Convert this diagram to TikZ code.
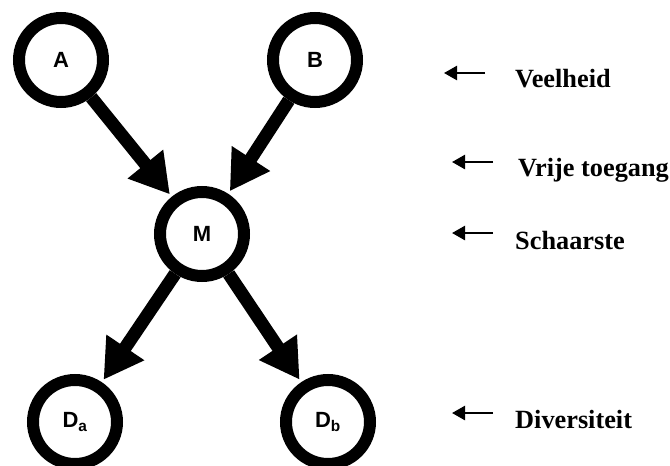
\documentclass[tikz,border=0pt]{standalone}
\usepackage{fontspec}
\setmainfont{Liberation Serif}
\newfontfamily\nodefont{Liberation Sans}
\usetikzlibrary{arrows.meta}
\tikzset{
  ring/.style={circle,draw=black,line width=12pt,minimum size=84pt,inner sep=0pt,fill=white,font=\nodefont\bfseries\fontsize{22}{22}\selectfont},
  bigarrow/.style={line width=13pt,-{Triangle[length=39pt,width=43pt]},shorten >=3pt},
  smallarrow/.style={line width=2.5pt,-{Triangle[length=13pt,width=14pt]}},
  lbl/.style={anchor=base west,inner sep=0pt,font=\bfseries\fontsize{26.3}{26.3}\selectfont}}
\begin{document}
\begin{tikzpicture}[x=1pt,y=-1pt]
\useasboundingbox (0,0) rectangle (670,466);
\node[ring] (A) at (61,60) {A};
\node[ring] (B) at (315,60) {B};
\node[ring] (M) at (202,234) {M};
\node[ring] (Da) at (75,422) {D\textsubscript{a}};
\node[ring] (Db) at (328,422) {D\textsubscript{b}};
\draw[bigarrow] (A) -- (M);
\draw[bigarrow] (B) -- (M);
\draw[bigarrow] (M) -- (Da);
\draw[bigarrow] (M) -- (Db);
\coordinate (s1) at (485,73); \coordinate (e1) at (444,73);
\coordinate (s2) at (493,162); \coordinate (e2) at (452,162);
\coordinate (s3) at (493,233); \coordinate (e3) at (452,233);
\coordinate (s4) at (493,413); \coordinate (e4) at (452,413);
\draw[smallarrow] (s1) -- (e1);
\draw[smallarrow] (s2) -- (e2);
\draw[smallarrow] (s3) -- (e3);
\draw[smallarrow] (s4) -- (e4);
\node[lbl] (t1) at (515,87) {Veelheid};
\node[lbl] (t2) at (518,176) {Vrije toegang};
\node[lbl] (t3) at (515,249) {Schaarste};
\node[lbl] (t4) at (515,428) {Diversiteit};
\end{tikzpicture}
\end{document}
